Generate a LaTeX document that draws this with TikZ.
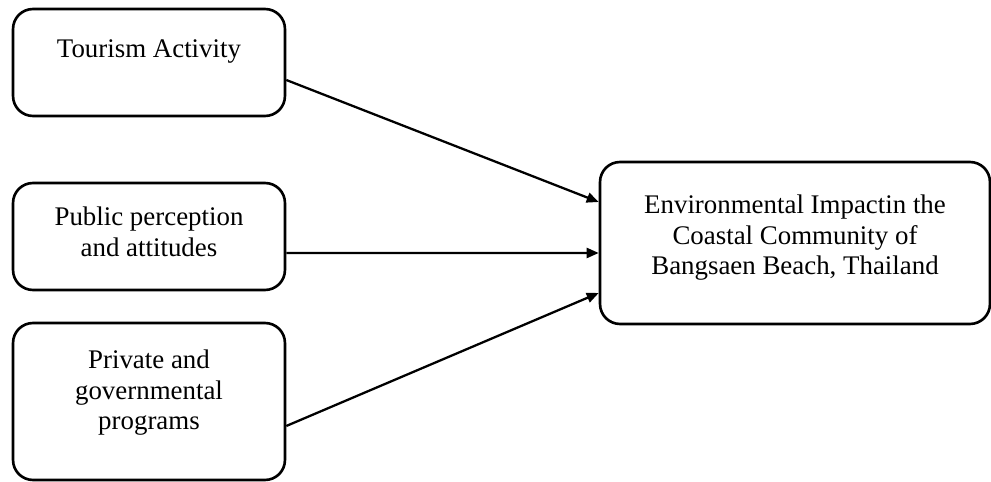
\documentclass[tikz,border=0pt]{standalone}
\usepackage{fontspec}
\setmainfont{Liberation Serif}
\usetikzlibrary{arrows.meta,positioning}
\tikzset{factorbox/.style={draw,rectangle,rounded corners=0.4cm,line width=1.5pt,minimum width=5.44cm,minimum height=2.14cm},
    impactbox/.style={draw,rectangle,rounded corners=0.4cm,line width=1.5pt,minimum width=7.8cm,minimum height=3.24cm},
    boxtext/.style={align=center,inner sep=0,font=\fontsize{15.3}{17.3}\selectfont},
    linkarrow/.style={line width=1.3pt,-{Triangle[length=0.24cm,width=0.2cm]}}}
\begin{document}
\begin{tikzpicture}[x=0.02cm,y=-0.02cm]

\useasboundingbox (0,0) rectangle (991,482);

\node (tour) [factorbox] at (149,62.5) {};
\node (pub) [factorbox] at (149,236.5) {};
\node (prog) [factorbox,minimum height=3.14cm] at (149,401.5) {};
\node (impact) [impactbox] at (795,243) {};

\node (tourtext) [boxtext,below=0.64cm of tour.north] {Tourism Activity};
\node (pubtext) [boxtext,below=0.5cm of pub.north] {Public perception\\and attitudes};
\node (progtext) [boxtext,below=0.56cm of prog.north] {Private and\\governmental\\programs};
\node (impacttext) [boxtext,below=0.68cm of impact.north] {Environmental Impactin the\\Coastal Community of\\Bangsaen Beach, Thailand};

\draw [linkarrow] ([yshift=-0.35cm]tour.east) -- ([yshift=0.82cm]impact.west);
\draw [linkarrow] ([yshift=-0.33cm]pub.east) -- ([yshift=-0.2cm]impact.west);
\draw [linkarrow] ([yshift=-0.49cm]prog.east) -- ([yshift=-1cm]impact.west);

\end{tikzpicture}
\end{document}
